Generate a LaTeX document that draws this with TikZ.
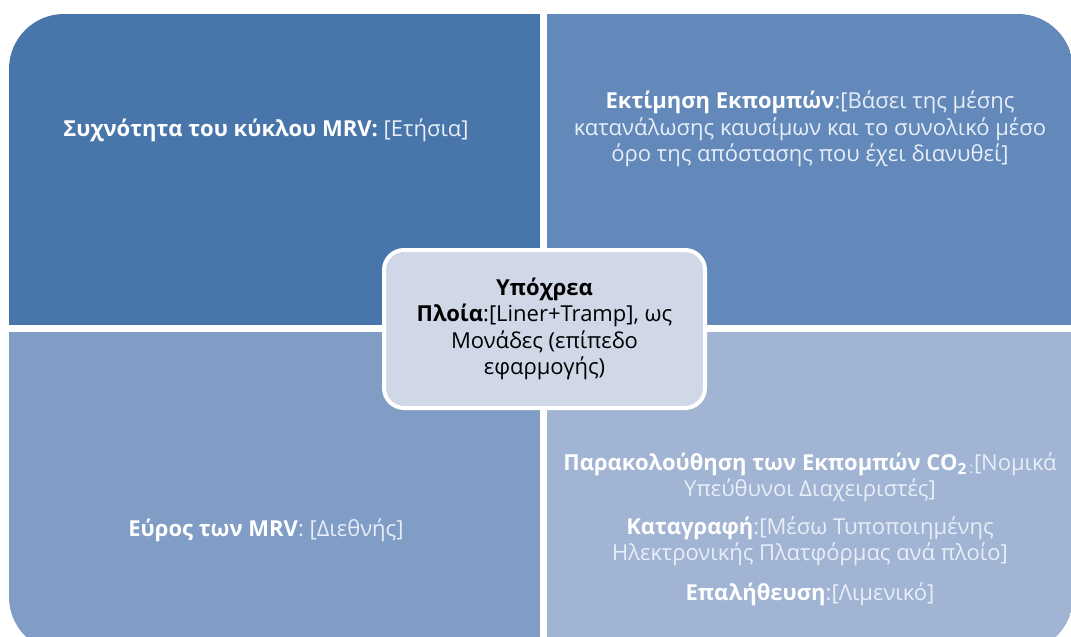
\documentclass[tikz,border=0pt]{standalone}
\usepackage{fontspec}
\setmainfont{Open Sans}
\definecolor{quadA}{RGB}{72,117,170}
\definecolor{quadB}{RGB}{99,137,187}
\definecolor{quadC}{RGB}{128,157,198}
\definecolor{quadD}{RGB}{161,180,211}
\definecolor{hubfill}{RGB}{208,216,232}
\definecolor{softwhite}{RGB}{232,238,247}

\begin{document}
\begin{tikzpicture}[x=1pt,y=-1pt,
    quadtext/.style={text=white,align=center,font=\fontsize{22}{26.5}\selectfont},
    hubbox/.style={fill=hubfill,draw=white,line width=4pt,rounded corners=20pt,
      minimum width=321pt,minimum height=158pt,align=center,
      font=\fontsize{22}{26.5}\selectfont}]
    \useasboundingbox (0,0) rectangle (1071,637);
    \begin{scope}
        \clip[rounded corners=55pt] (9,14) rectangle (1073,652);
        \fill[quadA] (9,14) rectangle (540,325);
        \fill[quadB] (547,14) rectangle (1073,325);
        \fill[quadC] (9,332) rectangle (540,652);
        \fill[quadD] (547,332) rectangle (1073,652);
    \end{scope}
    \node[quadtext] (freq) at (266,130)
        {\textbf{Συχνότητα του κύκλου MRV:} \color{softwhite}[Ετήσια]};
    \node[quadtext] (estim) at (810,129)
        {\textbf{Εκτίμηση Εκπομπών}\color{softwhite}:[Βάσει της μέσης\\
         \color{softwhite}κατανάλωσης καυσίμων και το συνολικό μέσο\\
         \color{softwhite}όρο της απόστασης που έχει διανυθεί]};
    \node[quadtext] (scope) at (266,530)
        {\textbf{Εύρος των MRV}\color{softwhite}: [Διεθνής]};
    \node[quadtext] (monit) at (810,529)
        {\textbf{Παρακολούθηση των Εκπομπών CO\textsubscript{2}}\color{softwhite}\textsubscript{\,:}[Νομικά\\
         \color{softwhite}Υπεύθυνοι Διαχειριστές]\\[11pt]
         \textbf{Καταγραφή}\color{softwhite}:[Μέσω Τυποποιημένης\\
         \color{softwhite}Ηλεκτρονικής Πλατφόρμας ανά πλοίο]\\[13pt]
         \textbf{Επαλήθευση}\color{softwhite}:[Λιμενικό]};
    \node[hubbox] (hub) at (544.5,329)
        {\textbf{Υπόχρεα}\\
         \textbf{Πλοία}:[Liner+Tramp], ως\\
         Μονάδες (επίπεδο\\
         εφαρμογής)};
\end{tikzpicture}
\end{document}
